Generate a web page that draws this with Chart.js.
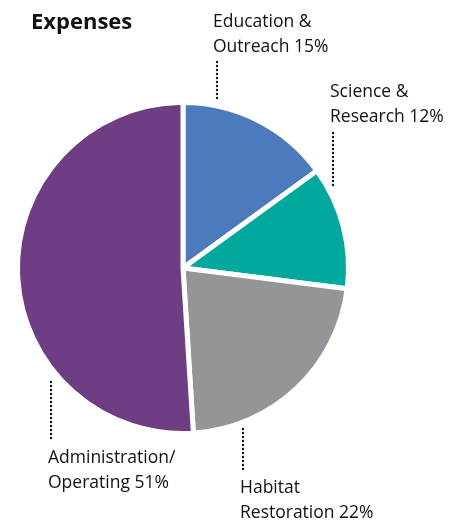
<!DOCTYPE html>
<html>
<head>
<meta charset="utf-8">
<script src="https://cdn.jsdelivr.net/npm/chart.js@4"></script>
<style>
  html, body { margin: 0; padding: 0; background: #fff; }
  #wrap { width: 461px; height: 523px; }
</style>
</head>
<body>
<div id="wrap"><canvas id="myChart" width="461" height="523"></canvas></div>
<script>
const categories = ['Education & Outreach', 'Science & Research', 'Habitat Restoration', 'Administration/ Operating'];
const shares = [15, 12, 22, 51];
const sliceColors = ['#4b7abd', '#00a89d', '#939598', '#6f3d84'];

// label text lines, leader line and text anchor for each slice
const labelLines = [
    ['Education &', 'Outreach 15%'],
    ['Science &', 'Research 12%'],
    ['Habitat', 'Restoration 22%'],
    ['Administration/', 'Operating 51%']
];
const labelSpots = [
    { x: 213, y: 27, lx: 217, ly1: 62, ly2: 101 },
    { x: 330, y: 97, lx: 333, ly1: 133, ly2: 188 },
    { x: 240, y: 493, lx: 243, ly1: 429, ly2: 470 },
    { x: 48, y: 463, lx: 51, ly1: 382, ly2: 438 }
];

const labelsPlugin = {
    id: 'calloutLabels',
    afterDraw(chart) {
        const ctx = chart.ctx;
        ctx.save();
        ctx.fillStyle = '#111';
        ctx.font = 'bold 22px "Open Sans"';
        ctx.textBaseline = 'alphabetic';
        ctx.fillText('Expenses', 31, 29);

        ctx.font = '17.5px "Open Sans"';
        for (let i = 0; i < labelLines.length; i++) {
            const s = labelSpots[i];
            labelLines[i].forEach((t, j) => ctx.fillText(t, s.x, s.y + j * 25));
            // dotted leader
            for (let y = s.ly1; y <= s.ly2; y += 4) {
                ctx.beginPath();
                ctx.arc(s.lx, y, 1.2, 0, Math.PI * 2);
                ctx.fill();
            }
        }
        ctx.restore();
    }
};

const ctx = document.getElementById('myChart').getContext('2d');
const myChart = new Chart(ctx, {
    type: 'pie',
    data: {
        labels: categories,
        datasets: [{
            data: shares,
            backgroundColor: sliceColors,
            borderColor: '#fff',
            borderWidth: 5
        }]
    },
    options: {
        responsive: false,
        animation: false,
        layout: { padding: { top: 100, bottom: 87, left: 15, right: 110 } },
        plugins: {
            legend: { display: false },
            tooltip: { enabled: false }
        }
    },
    plugins: [labelsPlugin]
});
</script>
</body>
</html>
